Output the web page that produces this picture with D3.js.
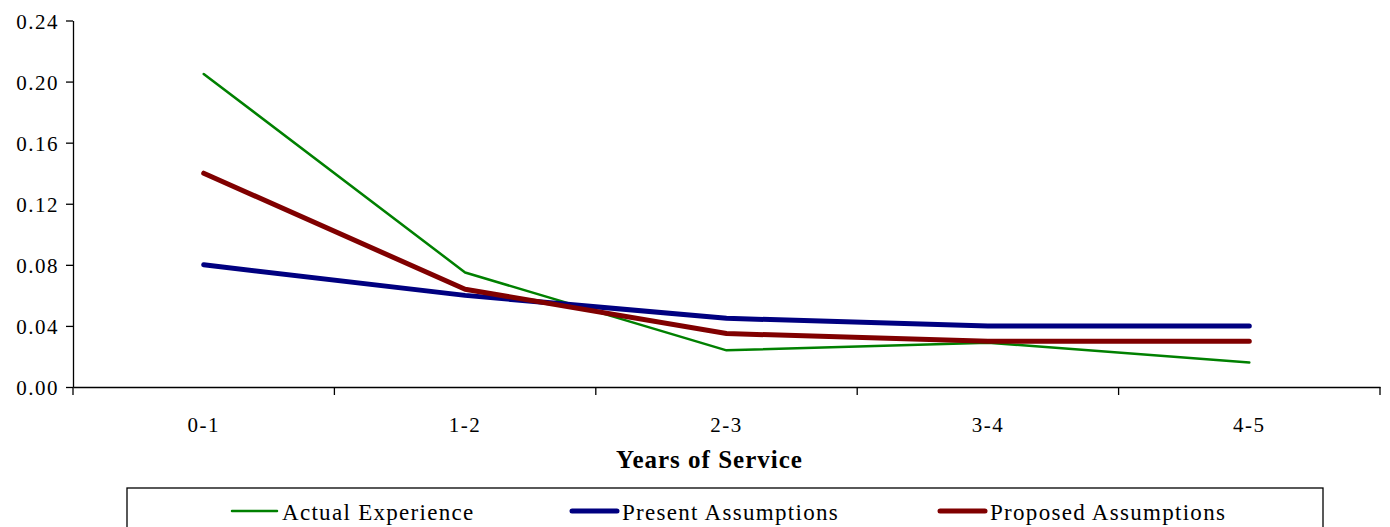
<!DOCTYPE html>
<html><head><meta charset="utf-8">
<script src="https://cdn.jsdelivr.net/npm/d3@7"></script>
<style>body{margin:0;background:#fff}svg text{font-family:"Liberation Serif",Tinos,"Times New Roman",Times,"DejaVu Serif",serif !important}</style>
</head><body><svg id="c" width="1390" height="527"></svg>
<script>
const categories = ["0-1","1-2","2-3","3-4","4-5"];
const actualExperience = [0.205,0.075,0.024,0.029,0.016];
const presentAssumptions = [0.080,0.060,0.045,0.040,0.040];
const proposedAssumptions = [0.140,0.064,0.035,0.030,0.030];
const yTicks = [0,0.04,0.08,0.12,0.16,0.20,0.24];
const seriesNames = ["Actual Experience","Present Assumptions","Proposed Assumptions"];

const series = [
  {name:seriesNames[0], values:actualExperience, color:"#008000", width:2.5},
  {name:seriesNames[1], values:presentAssumptions, color:"#000080", width:5},
  {name:seriesNames[2], values:proposedAssumptions, color:"#800000", width:5}
];
const svg = d3.select("#c");
const m = {l:73, r:1380, t:20.5, b:387};
const x = d3.scaleBand().domain(categories).range([m.l,m.r]);
const y = d3.scaleLinear().domain([0,0.24]).range([m.b,m.t]);

const yAxis = svg.append("g").attr("transform",`translate(${m.l},0)`)
  .call(d3.axisLeft(y).tickValues(yTicks).tickFormat(d3.format(".2f")).tickSize(7).tickSizeOuter(0));
yAxis.attr("font-family",null);
yAxis.select(".domain").attr("stroke","#000").attr("stroke-width",1.3);
yAxis.selectAll(".tick line").attr("stroke","#000").attr("stroke-width",1.3);
yAxis.selectAll("text").attr("font-size",21).attr("letter-spacing","1.5").attr("fill","#000").attr("x",-14).attr("dy","0.36em");

const xAxis = svg.append("g").attr("transform",`translate(0,${m.b})`)
  .call(d3.axisBottom(x).tickSize(0).tickSizeOuter(0));
xAxis.attr("font-family",null);
xAxis.select(".domain").attr("stroke","#000").attr("stroke-width",1.3);
xAxis.selectAll("text").attr("font-size",21).attr("letter-spacing","1.5").attr("fill","#000").attr("y",45).attr("dy","0");
const bounds = categories.map(c=>x(c)+x.bandwidth()).concat([x(categories[0])]);
xAxis.selectAll(".bt").data(bounds).enter().append("line")
  .attr("x1",d=>d).attr("x2",d=>d).attr("y1",0).attr("y2",8).attr("stroke","#000").attr("stroke-width",1.3);

svg.append("text").attr("x",709.5).attr("y",468).attr("text-anchor","middle")
  .attr("font-size",25).attr("font-weight","bold").attr("letter-spacing","1").text("Years of Service");

const line = d3.line().x((d,i)=>x(categories[i])+x.bandwidth()/2).y(d=>y(d));
series.forEach(s=>{
  svg.append("path").datum(s.values).attr("d",line).attr("fill","none")
    .attr("stroke",s.color).attr("stroke-width",s.width).attr("stroke-linecap","round").attr("stroke-linejoin","round");
});

svg.append("rect").attr("x",127).attr("y",488).attr("width",1196).attr("height",50)
  .attr("fill","#fff").attr("stroke","#000").attr("stroke-width",1.3);
const legX = [232,572,940];
series.forEach((s,i)=>{
  svg.append("line").attr("x1",legX[i]).attr("x2",legX[i]+45).attr("y1",511).attr("y2",511)
    .attr("stroke",s.color).attr("stroke-width",s.width).attr("stroke-linecap","round");
  svg.append("text").attr("x",legX[i]+50).attr("y",520).attr("font-size",23).attr("letter-spacing","1.3").text(s.name);
});
</script></body></html>
